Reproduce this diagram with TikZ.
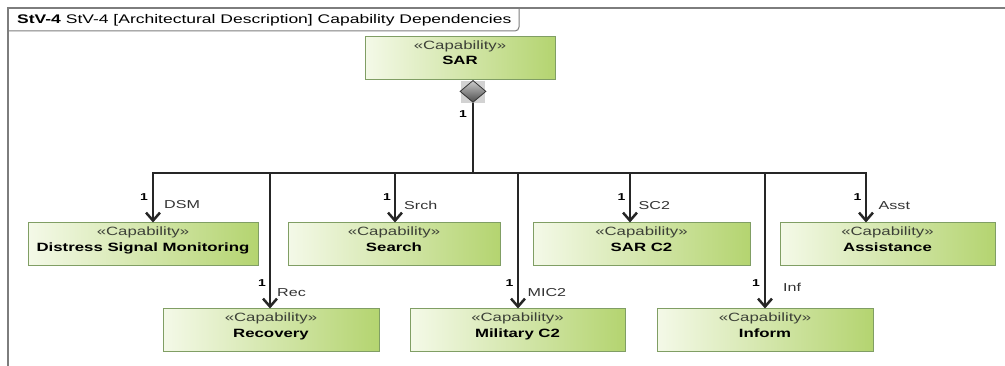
\documentclass[tikz,border=0pt]{standalone}
\usepackage{xcolor}
\usepackage{fontspec}
\setmainfont[FakeStretch=1.4]{Liberation Sans}
\usetikzlibrary{shapes.geometric, arrows.meta}

\definecolor{capLight}{RGB}{244,249,232}
\definecolor{capDark}{RGB}{180,212,112}
\definecolor{capEdge}{RGB}{128,158,100}
\definecolor{frameGray}{RGB}{125,125,125}
\definecolor{stereoGray}{RGB}{60,64,55}

% stereotype line over bold name, lifted a little inside the box
\newcommand{\capab}[1]{\raisebox{4pt}[\height][\depth]{%
  \begin{tabular}{@{}c@{}}{\color{stereoGray}«Capability»}\\ \textbf{#1}\end{tabular}}}

\begin{document}
\begin{tikzpicture}[
    x=1pt, y=-1pt,
    box/.style={rectangle, draw=capEdge, line width=1pt, left color=capLight, right color=capDark,
                minimum height=43pt, inner sep=0pt, font=\fontsize{12}{15.5}\selectfont},
    arr/.style={-{Straight Barb[length=8pt, width=14pt]}, line width=2.5pt, black!85},
    mult/.style={inner sep=0pt, font=\fontsize{10}{12}\selectfont\bfseries},
    role/.style={inner sep=0pt, font=\fontsize{11.5}{13}\selectfont, black!80}
]
\useasboundingbox (0,0) rectangle (1005,366);
\fill[white] (0,0) rectangle (1005,366);

% diagram frame and name tab
\draw[frameGray, line width=1.5pt] (8,366) -- (8,8) -- (1005,8);
\draw[frameGray, line width=1pt, rounded corners=4pt] (8,31) -| (519,8);
\node[anchor=west, inner sep=0pt, font=\fontsize{12.5}{14}\selectfont] (title) at (17,20)
    {\textbf{StV-4} StV-4 [Architectural Description] Capability Dependencies};

% capabilities
\node[box, minimum width=190pt] (sar) at (460,58) {\capab{SAR}};
\node[box, minimum width=230pt] (dsm) at (143,244.5) {\capab{Distress Signal Monitoring}};
\node[box, minimum width=212pt] (srch) at (394,244.5) {\capab{Search}};
\node[box, minimum width=217pt] (sarc) at (641.5,244.5) {\capab{SAR C2}};
\node[box, minimum width=215pt] (asst) at (887.5,244.5) {\capab{Assistance}};
\node[box, minimum width=216pt] (rec) at (271,330.5) {\capab{Recovery}};
\node[box, minimum width=215pt] (milc) at (517.5,330.5) {\capab{Military C2}};
\node[box, minimum width=216pt] (inf) at (765,330.5) {\capab{Inform}};

% composite end on SAR
\fill[gray!35] (461,81) rectangle (485,103);
\node[diamond, draw=black!80, line width=0.8pt, top color=gray!40, bottom color=black!70,
      minimum width=26pt, minimum height=22pt, inner sep=0pt, anchor=north] (agg) at (473,80) {};
\node[mult, anchor=north east] (m0) at ([xshift=-6pt, yshift=-8pt]agg.south) {1};
\coordinate (hub) at (473,173);
\draw[line width=2.8pt, black!85] (agg.south) -- (hub);

% parts
\draw[arr] (hub) -| ([xshift=10pt]dsm.north);
\draw[arr] (hub) -| ([xshift=-1pt]rec.north);
\draw[arr] (hub) -| ([xshift=1pt]srch.north);
\draw[arr] (hub) -| ([xshift=0.5pt]milc.north);
\draw[arr] (hub) -| ([xshift=-11.5pt]sarc.north);
\draw[arr] (hub) -| (inf.north);
\draw[arr] (hub) -| ([xshift=-21.5pt]asst.north);

% multiplicities and role names
\node[mult, anchor=south east] (m1) at ([xshift=5pt, yshift=22pt]dsm.north) {1};
\node[role, anchor=south west] (r1) at ([xshift=21pt, yshift=14pt]dsm.north) {DSM};
\node[mult, anchor=south east] (m2) at ([xshift=-5pt, yshift=22pt]rec.north) {1};
\node[role, anchor=south west] (r2) at ([xshift=6pt, yshift=12pt]rec.north) {Rec};
\node[mult, anchor=south east] (m3) at ([xshift=-3pt, yshift=22pt]srch.north) {1};
\node[role, anchor=south west] (r3) at ([xshift=10pt, yshift=13pt]srch.north) {Srch};
\node[mult, anchor=south east] (m4) at ([xshift=-4pt, yshift=22pt]milc.north) {1};
\node[role, anchor=south west] (r4) at ([xshift=10pt, yshift=12pt]milc.north) {MIC2};
\node[mult, anchor=south east] (m5) at ([xshift=-16pt, yshift=22pt]sarc.north) {1};
\node[role, anchor=south west] (r5) at ([xshift=-3pt, yshift=13pt]sarc.north) {SC2};
\node[mult, anchor=south east] (m6) at ([xshift=-5pt, yshift=22pt]inf.north) {1};
\node[role, anchor=south west] (r6) at ([xshift=18pt, yshift=17pt]inf.north) {Inf};
\node[mult, anchor=south east] (m7) at ([xshift=-26pt, yshift=22pt]asst.north) {1};
\node[role, anchor=south west] (r7) at ([xshift=-9pt, yshift=13pt]asst.north) {Asst};
\end{tikzpicture}
\end{document}
